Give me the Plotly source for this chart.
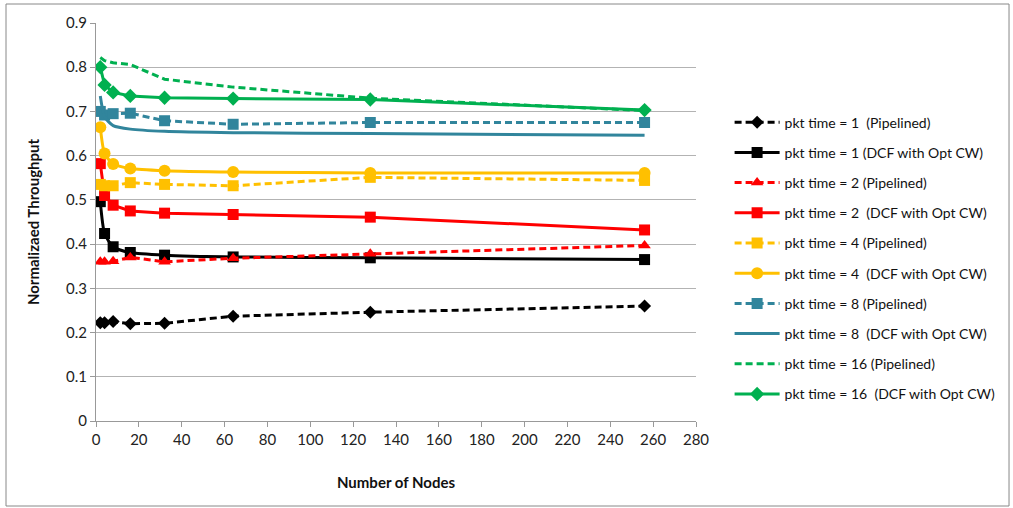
import plotly.graph_objects as go

nodes = [2, 4, 8, 16, 32, 64, 128, 256]

pipe1 = [0.222, 0.222, 0.225, 0.220, 0.221, 0.237, 0.246, 0.260]
dcf1 = [0.496, 0.424, 0.394, 0.381, 0.375, 0.371, 0.369, 0.365]
pipe2 = [0.360, 0.360, 0.361, 0.370, 0.360, 0.368, 0.378, 0.397]
dcf2 = [0.582, 0.510, 0.488, 0.475, 0.470, 0.467, 0.461, 0.432]
pipe4 = [0.535, 0.532, 0.532, 0.539, 0.535, 0.532, 0.551, 0.544]
dcf4 = [0.664, 0.605, 0.581, 0.571, 0.566, 0.563, 0.561, 0.561]
pipe8 = [0.700, 0.692, 0.695, 0.696, 0.679, 0.671, 0.675, 0.675]
dcf8 = [0.735, 0.688, 0.668, 0.660, 0.655, 0.652, 0.650, 0.646]
pipe16 = [0.822, 0.815, 0.810, 0.806, 0.773, 0.755, 0.730, 0.702]
dcf16 = [0.800, 0.760, 0.743, 0.735, 0.731, 0.729, 0.727, 0.703]

names = [
    "pkt time = 1 \u00a0(Pipelined)",
    "pkt time = 1 (DCF with Opt CW)",
    "pkt time = 2 (Pipelined)",
    "pkt time = 2 \u00a0(DCF with Opt CW)",
    "pkt time = 4 (Pipelined)",
    "pkt time = 4 \u00a0(DCF with Opt CW)",
    "pkt time = 8 (Pipelined)",
    "pkt time = 8 \u00a0(DCF with Opt CW)",
    "pkt time = 16 (Pipelined)",
    "pkt time = 16 \u00a0(DCF with Opt CW)",
]

BLACK = "#000000"
RED = "#FF0000"
YELLOW = "#FFC000"
TEAL = "#31859C"
GREEN = "#00B050"
DASH = "7px,4px"

series = [
    (pipe1, BLACK, DASH, "diamond", 10, "linear"),
    (dcf1, BLACK, "solid", "square", 11, "spline"),
    (pipe2, RED, DASH, "triangle-up", 11, "linear"),
    (dcf2, RED, "solid", "square", 11, "linear"),
    (pipe4, YELLOW, DASH, "square", 11, "linear"),
    (dcf4, YELLOW, "solid", "circle", 12, "spline"),
    (pipe8, TEAL, DASH, "square", 11, "linear"),
    (dcf8, TEAL, "solid", None, 0, "spline"),
    (pipe16, GREEN, DASH, None, 0, "linear"),
    (dcf16, GREEN, "solid", "diamond", 11, "linear"),
]

fig = go.Figure()
for i, (vals, col, dash, sym, size, shape) in enumerate(series):
    mode = "lines+markers" if sym else "lines"
    kw = {}
    if sym:
        kw["marker"] = dict(symbol=sym, size=size, color=col, line=dict(width=0))
    fig.add_trace(go.Scatter(
        x=nodes, y=vals, name=names[i], mode=mode,
        line=dict(color=col, width=3, dash=dash, shape=shape, smoothing=0.6),
        legendgroup=f"g{i}",
        **kw,
    ))

FONT = "Lato, 'Open Sans', sans-serif"

fig.update_layout(
    width=1013, height=508,
    margin=dict(l=96, r=317, t=23, b=87),
    paper_bgcolor="white", plot_bgcolor="white",
    font=dict(family=FONT, size=15, color="#222"),
    showlegend=True,
    legend=dict(
        x=1.056, y=0.79, xanchor="left", yanchor="top",
        font=dict(family=FONT, size=14, color="#111"),
        tracegroupgap=9, itemwidth=45,
        bgcolor="rgba(0,0,0,0)",
    ),
    xaxis=dict(
        range=[0, 280], dtick=20, tick0=0,
        showgrid=False, zeroline=False,
        showline=True, linecolor="#999", linewidth=1,
        ticks="outside", ticklen=5, tickcolor="#999",
        tickfont=dict(size=15, color="#222"),
        title=dict(text="<b>Number of Nodes</b>", font=dict(size=15, color="#111"), standoff=30),
    ),
    yaxis=dict(
        range=[0, 0.9], dtick=0.1, tick0=0,
        showgrid=True, gridcolor="#b3b3b3", gridwidth=1,
        zeroline=False,
        showline=True, linecolor="#999", linewidth=1,
        ticks="outside", ticklen=5, tickcolor="#999",
        tickfont=dict(size=15, color="#222"),
        title=dict(text="<b>Normalizaed Throughput</b>", font=dict(size=15, color="#111"), standoff=22),
    ),
    shapes=[dict(
        type="rect", xref="paper", yref="paper",
        x0=-0.15, x1=1.5217, y0=-0.2136, y1=1.0477,
        line=dict(color="#888", width=1), fillcolor="rgba(0,0,0,0)", layer="below",
    )],
)

fig.write_html("out.html")
